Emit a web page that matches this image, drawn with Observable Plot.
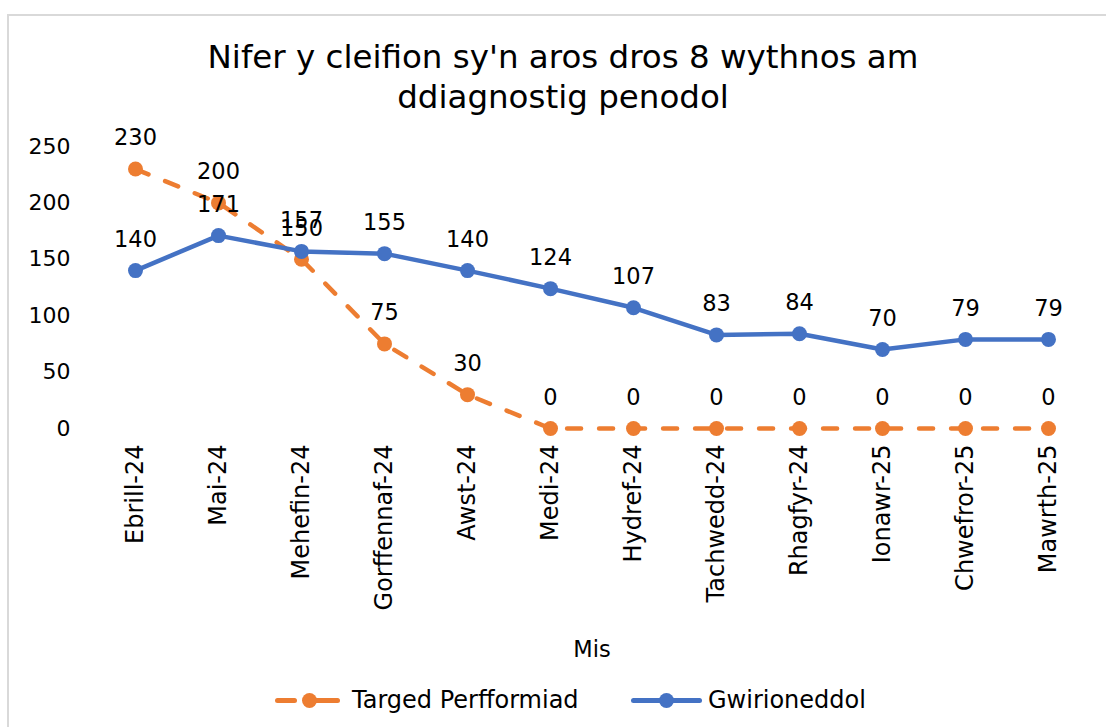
<!DOCTYPE html>
<html><head><meta charset="utf-8">
<script src="https://cdn.jsdelivr.net/npm/d3@7"></script>
<script src="https://cdn.jsdelivr.net/npm/@observablehq/plot@0.6"></script>
<style>
body{margin:0;background:#fff;font-family:"DejaVu Sans",Verdana,sans-serif;color:#000}
#wrap{position:relative;width:1106px;height:727px;overflow:hidden;background:#fff}
#frame{position:absolute;left:7px;top:14px;width:1120px;height:740px;border:2px solid #d9d9d9;box-sizing:border-box}
#title{position:absolute;left:0;width:1126px;top:37px;text-align:center;font-size:32.5px;line-height:40px}
#chart{position:absolute;left:0;top:115px}
.leg{position:absolute;font-size:24px;line-height:30px;top:685px;white-space:nowrap}
.seg{position:absolute;height:5px;border-radius:3px;top:698px}
.dot{position:absolute;width:15px;height:15px;border-radius:50%;top:693px}
</style></head>
<body>
<div id="wrap">
  <div id="frame"></div>
  <div id="title">Nifer y cleifion sy'n aros dros 8 wythnos am<br>ddiagnostig penodol</div>
  <div id="chart"></div>
  <div class="seg" style="left:275px;width:22px;background:#ED7D31"></div>
  <div class="seg" style="left:313px;width:27px;background:#ED7D31"></div>
  <div class="dot" style="left:302px;background:#ED7D31"></div>
  <div class="leg" id="leg1" style="left:352px">Targed Perfformiad</div>
  <div class="seg" style="left:631px;width:71px;background:#4472C4"></div>
  <div class="dot" style="left:659px;background:#4472C4"></div>
  <div class="leg" id="leg2" style="left:708px">Gwirioneddol</div>
</div>
<script>
const months = ["Ebrill-24","Mai-24","Mehefin-24","Gorffennaf-24","Awst-24","Medi-24","Hydref-24","Tachwedd-24","Rhagfyr-24","Ionawr-25","Chwefror-25","Mawrth-25"];
const target = [230,200,150,75,30,0,0,0,0,0,0,0];
const actual = [140,171,157,155,140,124,107,83,84,70,79,79];
const yTicks = [0,50,100,150,200,250];
const seriesNames = ["Targed Perfformiad","Gwirioneddol"];
const colors = ["#ED7D31","#4472C4"];

const tData = months.map((m,i)=>({month:m, value:target[i]}));
const aData = months.map((m,i)=>({month:m, value:actual[i]}));

const chart = Plot.plot({
  width:1106, height:550,
  marginLeft:80, marginRight:3, marginTop:31, marginBottom:237,
  style:{fontFamily:"'DejaVu Sans', Verdana, sans-serif", color:"#000", background:"transparent"},
  x:{type:"point", domain:months, range:[135,1048], padding:0},
  y:{domain:[0,250]},
  marks:[
    Plot.axisY({ticks:yTicks, tickSize:0, tickPadding:10, fontSize:22, label:null}),
    Plot.axisX({tickSize:0, tickPadding:16, tickRotate:-90, fontSize:24, label:null}),
    Plot.line(tData,{x:"month", y:"value", stroke:colors[0], strokeWidth:4.5, strokeDasharray:"14,18", strokeLinecap:"round"}),
    Plot.dot(tData,{x:"month", y:"value", fill:colors[0], r:7.5}),
    Plot.line(aData,{x:"month", y:"value", stroke:colors[1], strokeWidth:4.5}),
    Plot.dot(aData,{x:"month", y:"value", fill:colors[1], r:7.5}),
    Plot.text(tData,{x:"month", y:"value", text:d=>String(d.value), dy:-31, fontSize:22.5, fill:"#000"}),
    Plot.text(aData,{x:"month", y:"value", text:d=>String(d.value), dy:-31, fontSize:22.5, fill:"#000"}),
    Plot.text(["Mis"],{frameAnchor:"bottom", dy:228, fontSize:22.5, fill:"#000"})
  ]
});
document.getElementById("chart").appendChild(chart);
</script>
</body></html>
